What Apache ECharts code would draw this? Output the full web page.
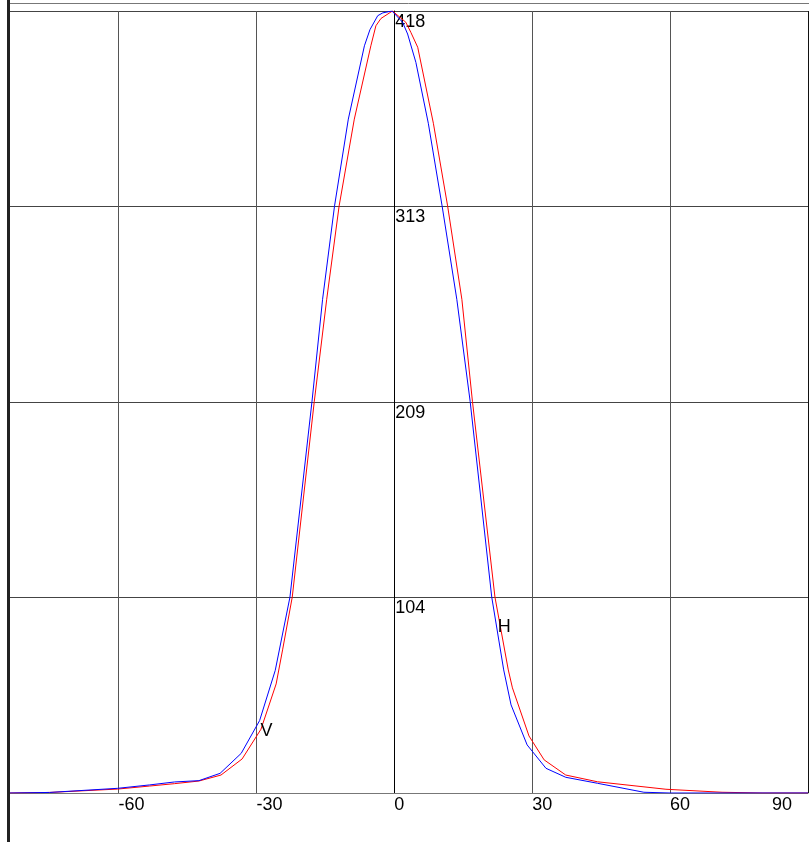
<!DOCTYPE html>
<html>
  <head>
    <meta charset="utf-8" />
    <title>V / H profile</title>
    <script src="https://cdn.jsdelivr.net/npm/echarts@6/dist/echarts.min.js"></script>
    <style>
      html, body { margin: 0; padding: 0; background: #fff; }
    </style>
  </head>
  <body>
    <div id="main" style="width:809px;height:842px;"></div>
    <script type="text/javascript">
      // x ticks and y range
      var xTicks = [-60, -30, 0, 30, 60, 90];
      var xMin = -83.6, xMax = 90;
      var yMax = 418;

      // V (blue) points
      var vX = [-83.6, -75, -60.2, -53.3, -47.8, -42.5, -37.9, -33.3, -29.3, -25.9, -22.7, -17.9, -15.6, -13.0, -10.0, -6.5, -5.3, -3.6, -2.5, -0.5,
                1.8, 2.9, 4.7, 7.4, 10.4, 13.6, 16.5, 21.2, 23.8, 25.4, 28.9, 33.0, 37.3, 44.2, 54.3, 60, 90];
      var vY = [0, 0.3, 2.5, 4.3, 5.9, 6.6, 10.5, 21.2, 38.7, 65.5, 104.7, 209.4, 263.9, 313.8, 360.2, 399.4, 408, 415.5, 417, 418,
                412, 405.7, 390.5, 358, 313.8, 263.9, 209.4, 104.7, 65.8, 47.1, 25.7, 13.2, 8.4, 5.2, 0.4, 0, 0];

      // H (red) points
      var hX = [-83.6, -75, -60.2, -53.3, -47.8, -42.5, -37.7, -33.1, -29.0, -25.7, -24.3, -22.2, -17.4, -14.7, -12.0, -8.7, -5.1, -4.0, -2.9, -0.4,
                2.5, 3.6, 5.1, 8.5, 11.6, 14.7, 17.0, 21.9, 24.8, 25.7, 29.3, 32.6, 37.3, 44.2, 59.1, 71.3, 80, 90];
      var hY = [0, 0.3, 2.1, 3.7, 5.0, 6.4, 9.6, 18.2, 34.1, 58.3, 76.5, 104.7, 209.4, 263.9, 313.8, 360.2, 399.4, 410.1, 414, 418,
                412, 406.6, 398.6, 358, 313.8, 263.9, 209.4, 104.7, 65.8, 56.2, 30.5, 17.7, 9.6, 6.0, 2.0, 0.4, 0, 0];

      // where the curve names sit
      var vLabel = [-29.1, 33];
      var hLabel = [22.5, 88.8];

      function zip(xs, ys) {
        var out = [];
        for (var i = 0; i < xs.length; i++) out.push([xs[i], ys[i]]);
        return out;
      }

      var font = '"Liberation Sans", Arial, sans-serif';
      var gridLeft = 10, gridRight = 1, chartW = 809;
      var gridW = chartW - gridLeft - gridRight;
      // the value axis sits on x = 0, with its labels
      var yOffset = -(0 - xMin) / (xMax - xMin) * gridW;

      var myChart = echarts.init(document.getElementById('main'));

      var option = {
        animation: false,
        backgroundColor: '#fff',
        grid: { left: gridLeft, right: gridRight, top: 11, bottom: 49, containLabel: false },
        xAxis: {
          type: 'value',
          min: xMin,
          max: xMax,
          axisLine: { show: true, onZero: false, lineStyle: { color: '#777', width: 1 } },
          axisTick: { show: false, customValues: xTicks },
          axisLabel: {
            customValues: xTicks,
            color: '#000',
            fontFamily: font,
            fontSize: 18,
            margin: 3,
            align: 'left',
            alignMaxLabel: 'right',
            padding: [0, 16, 0, 0]
          },
          splitLine: {
            show: true,
            lineStyle: { color: ['#555', '#555', '#000', '#555', '#555', '#111'], width: 1 }
          }
        },
        yAxis: {
          type: 'value',
          min: 0,
          max: yMax,
          interval: yMax / 4,
          offset: yOffset,
          axisLine: { show: true, onZero: false, lineStyle: { color: '#000', width: 1 } },
          axisTick: { show: false },
          axisLabel: {
            inside: true,
            showMinLabel: false,
            margin: 1,
            verticalAlign: 'top',
            padding: [2, 0, 0, 0],
            color: '#000',
            fontFamily: font,
            fontSize: 18,
            formatter: function (v) { return String(Math.floor(v)); }
          },
          splitLine: { show: true, lineStyle: { color: '#444', width: 1 } }
        },
        series: [
          {
            name: 'H',
            type: 'line',
            data: zip(hX, hY),
            showSymbol: false,
            symbol: 'none',
            lineStyle: { color: '#ff0000', width: 1 },
            markPoint: {
              symbol: 'circle',
              symbolSize: 0,
              label: { show: true, position: 'right', distance: 0, formatter: 'H', color: '#000', fontFamily: font, fontSize: 18 },
              data: [{ coord: hLabel }]
            }
          },
          {
            name: 'V',
            type: 'line',
            data: zip(vX, vY),
            showSymbol: false,
            symbol: 'none',
            lineStyle: { color: '#0000ff', width: 1 },
            markPoint: {
              symbol: 'circle',
              symbolSize: 0,
              label: { show: true, position: 'right', distance: 0, formatter: 'V', color: '#000', fontFamily: font, fontSize: 18 },
              data: [{ coord: vLabel }]
            }
          }
        ],
        graphic: [
          { type: 'line', z: 100, shape: { x1: 8, y1: 3.5, x2: 809, y2: 3.5 }, style: { stroke: '#777', lineWidth: 1 } },
          { type: 'rect', z: 100, shape: { x: 7, y: 0, width: 3, height: 842 }, style: { fill: '#222' } }
        ]
      };

      myChart.setOption(option);
    </script>
  </body>
</html>
